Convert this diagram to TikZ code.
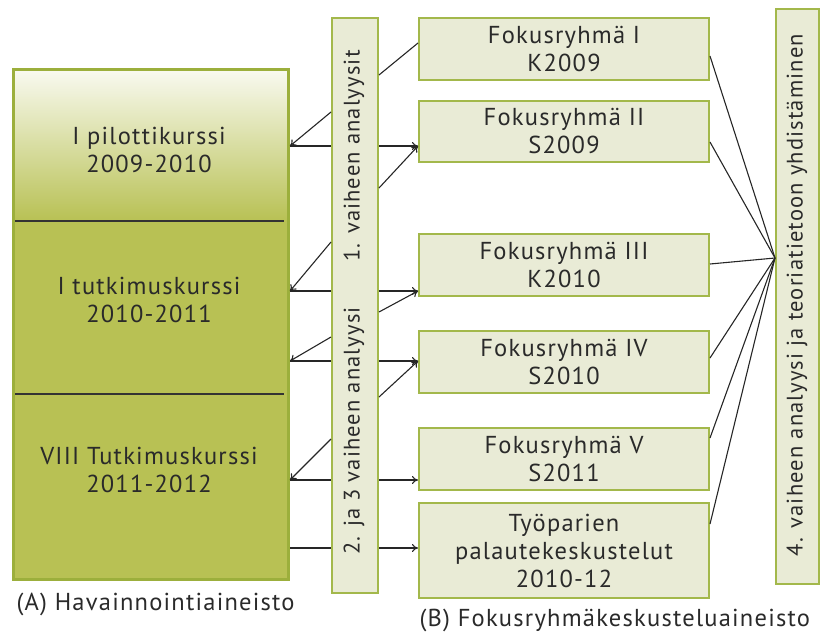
\documentclass[tikz,border=0pt]{standalone}
\usepackage{fontspec}
\setmainfont[LetterSpace=5]{PT Sans}
\usetikzlibrary{arrows.meta,backgrounds}
\definecolor{boxfill}{HTML}{E9EBD6}
\definecolor{boxline}{HTML}{A3B84B}
\definecolor{olive}{HTML}{B8C154}
\definecolor{oliveline}{HTML}{9CAF3C}
\definecolor{txt}{HTML}{2A2A2A}
\tikzset{
  lbox/.style={draw=boxline,line width=2pt,fill=boxfill,inner sep=0pt,text=txt,align=center,font=\fontsize{24.5}{28}\selectfont},
  vtext/.style={rotate=90,text=txt,font=\fontsize{22.5}{27}\selectfont,inner sep=0pt},
  ltext/.style={text=txt,align=center,font=\fontsize{24.5}{28}\selectfont},
  conn/.style={line width=1.1pt,draw=black!85},
  arr/.style={conn,-{To[length=6pt,width=8pt]}},
}
\begin{document}
\begin{tikzpicture}[x=1pt,y=-1pt]
\useasboundingbox (0,0) rectangle (820,635);
% left box
\fill[olive] (12,68) rectangle (287,578);
\shade[top color=white!92!olive, bottom color=olive] (12,68) rectangle (287,221);
\node[draw=oliveline,line width=3pt,minimum width=275pt,minimum height=510pt,inner sep=0pt,anchor=north west] (L) at (12,68) {};
\draw[line width=1.3pt,black!80] (15,221) -- (284,221);
\draw[line width=1.3pt,black!80] (15,394) -- (284,394);
\node[ltext] (L1) at (149,150) {I pilottikurssi\\2009-2010};
\node[ltext] (L2) at (149,300) {I tutkimuskurssi\\2010-2011};
\node[ltext] (L3) at (149,470) {VIII Tutkimuskurssi\\2011-2012};
% middle vertical box
\node[lbox,minimum width=46pt,minimum height=575pt,anchor=north west] (M) at (331,17) {};
\node[vtext] (M1) at (354,156) {1. vaiheen analyysit};
\node[vtext] (M2) at (354,431) {2. ja 3 vaiheen analyysi};
% focus boxes
\node[lbox,minimum width=290pt,minimum height=62pt,anchor=north west] (F1) at (418,17) {Fokusryhmä I\\K2009};
\node[lbox,minimum width=290pt,minimum height=61pt,anchor=north west] (F2) at (418,100) {Fokusryhmä II\\S2009};
\node[lbox,minimum width=290pt,minimum height=62pt,anchor=north west] (F3) at (418,233) {Fokusryhmä III\\K2010};
\node[lbox,minimum width=290pt,minimum height=62pt,anchor=north west] (F4) at (418,330) {Fokusryhmä IV\\S2010};
\node[lbox,minimum width=290pt,minimum height=62pt,anchor=north west] (F5) at (418,427) {Fokusryhmä V\\S2011};
\node[lbox,minimum width=290pt,minimum height=95pt,anchor=north west] (F6) at (418,502) {Työparien\\palautekeskustelut\\2010-12};
% right vertical box
\node[lbox,minimum width=43pt,minimum height=575pt,anchor=north west] (R) at (775,8) {};
\node[vtext] (R1) at (797,295) {4. vaiheen analyysi ja teoriatietoon yhdistäminen};
% labels
\node[ltext,anchor=west] (LA) at (13,604) {(A) Havainnointiaineisto};
\node[ltext,anchor=west] (LB) at (416,620) {(B) Fokusryhmäkeskusteluaineisto};
% connector coordinates
\coordinate (hub) at (R.west |- 0,258);
\foreach \y [count=\i] in {146,291,361,480,548} {
  \coordinate (la\i) at (L.east |- 0,\y);
  \coordinate (fa\i) at (F1.west |- 0,\y);
}
\coordinate (ml1) at (M.west |- 0,112);
\coordinate (ml2) at (M.west |- 0,242);
\coordinate (ml3) at (M.west |- 0,337);
\coordinate (ml4) at (M.west |- 0,439);
\coordinate (mr0) at (M.east |- 0,75);
\coordinate (mr1) at (M.east |- 0,188);
\coordinate (mr2) at (M.east |- 0,312);
\coordinate (mr3) at (M.east |- 0,397);
\coordinate (f1t) at (F1.west |- 0,43);
\begin{scope}[on background layer]
\foreach \i in {1,...,5} \draw[arr] (la\i) -- (fa\i);
\end{scope}
\foreach \i in {1,...,4} \draw[arr] (ml\i) -- (la\i);
\foreach \i in {1,2,3} \draw[arr] (mr\i) -- (fa\i);
\draw[conn] (mr0) -- (f1t);
% right convergence
\draw[conn] (F1.east |- 0,56) -- (hub);
\draw[conn] (F2.east |- 0,142) -- (hub);
\draw[conn] (F3.east |- 0,264) -- (hub);
\draw[conn] (F4.east |- 0,358) -- (hub);
\draw[conn] (F5.east |- 0,438) -- (hub);
\draw[conn] (F6.east |- 0,524) -- (hub);
\end{tikzpicture}
\end{document}
